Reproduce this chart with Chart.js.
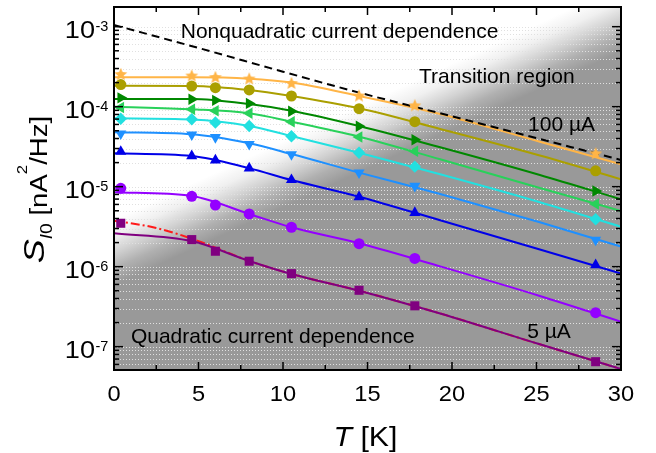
<!DOCTYPE html>
<html>
<head>
<meta charset="utf-8">
<script src="https://cdn.jsdelivr.net/npm/chart.js@4.4.1/dist/chart.umd.min.js"></script>
<style>
  html, body { margin: 0; padding: 0; background: #fff; }
  #wrap { width: 656px; height: 453px; }
</style>
</head>
<body>
<div id="wrap"><canvas id="noiseChart" width="656" height="453"></canvas></div>
<script>
// Temperatures of the measured points and of the samples of the fitted curves (K)
const markerT = [0.4, 4.6, 6.0, 8.0, 10.5, 14.5, 17.8, 28.5];
const fitT = [0, 4.6, 8.0, 10.5, 14.5, 19.3, 25.2, 30];

// Measured S_I0 (nA^2/Hz), highest bias current (100 uA) first, lowest (5 uA) last
const ptsStar    = [2.56e-4, 2.45e-4, 2.35e-4, 2.25e-4, 1.98e-4, 1.38e-4, 1.04e-4, 2.61e-5];
const ptsOlive   = [1.89e-4, 1.81e-4, 1.73e-4, 1.62e-4, 1.36e-4, 9.44e-5, 6.49e-5, 1.58e-5];
const ptsDkGreen = [1.29e-4, 1.24e-4, 1.20e-4, 1.10e-4, 8.79e-5, 5.69e-5, 3.86e-5, 8.84e-6];
const ptsGreen   = [9.77e-5, 9.28e-5, 8.89e-5, 8.27e-5, 6.49e-5, 4.18e-5, 2.78e-5, 6.08e-6];
const ptsCyan    = [7.06e-5, 6.98e-5, 6.35e-5, 5.74e-5, 4.27e-5, 2.66e-5, 1.78e-5, 3.91e-6];
const ptsSky     = [4.61e-5, 4.48e-5, 4.15e-5, 3.40e-5, 2.53e-5, 1.50e-5, 1.02e-5, 2.16e-6];
const ptsBlue    = [2.74e-5, 2.42e-5, 2.14e-5, 1.70e-5, 1.22e-5, 7.44e-6, 4.73e-6, 1.05e-6];
const ptsViolet  = [9.55e-6, 7.59e-6, 5.90e-6, 4.56e-6, 3.11e-6, 1.94e-6, 1.27e-6, 2.66e-7];
const ptsPlum    = [3.49e-6, 2.18e-6, 1.56e-6, 1.17e-6, 8.18e-7, 5.07e-7, 3.24e-7, 6.49e-8];

// Fitted curves sampled at fitT
const fitStar    = [2.33e-4, 2.33e-4, 2.24e-4, 2.00e-4, 1.36e-4, 8.11e-5, 3.65e-5, 1.91e-5];
const fitOlive   = [1.83e-4, 1.82e-4, 1.62e-4, 1.36e-4, 9.55e-5, 5.26e-5, 2.45e-5, 1.24e-5];
const fitDkGreen = [1.25e-4, 1.25e-4, 1.08e-4, 8.91e-5, 5.74e-5, 3.11e-5, 1.40e-5, 6.96e-6];
const fitGreen   = [1.00e-4, 9.28e-5, 8.27e-5, 6.49e-5, 4.22e-5, 2.20e-5, 9.64e-6, 4.97e-6];
const fitCyan    = [7.16e-5, 6.92e-5, 5.74e-5, 4.30e-5, 2.66e-5, 1.43e-5, 6.40e-6, 3.16e-6];
const fitSky     = [4.79e-5, 4.52e-5, 3.49e-5, 2.56e-5, 1.50e-5, 8.11e-6, 3.60e-6, 1.78e-6];
const fitBlue    = [2.61e-5, 2.42e-5, 1.70e-5, 1.21e-5, 7.50e-6, 3.80e-6, 1.64e-6, 8.22e-7];
const fitViolet  = [8.51e-6, 7.65e-6, 4.56e-6, 3.11e-6, 1.96e-6, 1.01e-6, 4.31e-7, 2.05e-7];
const fitPlum    = [2.62e-6, 2.09e-6, 1.18e-6, 8.11e-7, 5.01e-7, 2.60e-7, 1.07e-7, 5.26e-8];

// Quadratic-regime guide (red dash-dot) and nonquadratic limit (black dashes)
const quadT = [0, 2.5, 5, 8.0, 10.5, 14.5, 19.3, 25.2, 30];
const quadS = [3.76e-6, 3.05e-6, 2.09e-6, 1.18e-6, 8.11e-7, 5.01e-7, 2.60e-7, 1.07e-7, 5.26e-8];
const limitT = [0, 5, 10, 14.5, 19.3, 25.2, 30];
const limitS = [1.05e-3, 5.42e-4, 2.74e-4, 1.50e-4, 8.27e-5, 3.94e-5, 2.16e-5];

// Axes
const xRange = [0, 30];
const yRange = [5.11e-8, 1.763e-3];
const xTickVals = [0, 5, 10, 15, 20, 25, 30];
const xTickLabels = ['0', '5', '10', '15', '20', '25', '30'];
const xMinorVals = [2.5, 7.5, 12.5, 17.5, 22.5, 27.5];
const yDecades = [1e-7, 1e-6, 1e-5, 1e-4, 1e-3];
const yExpLabels = ['-7', '-6', '-5', '-4', '-3'];

// Annotations, anchored in data space (T, S) at the left end of the baseline
const notes = [
  { text: 'Nonquadratic current dependence', t: 3.95, s: 7.2e-4 },
  { text: 'Transition region', t: 18.05, s: 1.98e-4 },
  { text: '100 \u00b5A', t: 24.5, s: 4.9e-5 },
  { text: '5 \u00b5A', t: 24.45, s: 1.29e-7 },
  { text: 'Quadratic current dependence', t: 1.0, s: 1.11e-7 }
];

// Shaded background: white above the edge line, grey below it
const shadeEdge = [[0, 3.9e-6], [24, 8.5e-4]];
const shadeWidth = 60;

const FONT = '"Liberation Sans", Arial, Helvetica, sans-serif';

function starImage(color, r) {
  const c = document.createElement('canvas');
  const size = Math.ceil(r * 2) + 2;
  c.width = size; c.height = size;
  const g = c.getContext('2d');
  g.fillStyle = color;
  g.beginPath();
  for (let i = 0; i < 10; i++) {
    const rad = i % 2 === 0 ? r : r * 0.45;
    const a = -Math.PI / 2 + i * Math.PI / 5;
    const px = size / 2 + rad * Math.cos(a);
    const py = size / 2 + rad * Math.sin(a) + 0.5;
    if (i === 0) g.moveTo(px, py); else g.lineTo(px, py);
  }
  g.closePath();
  g.fill();
  return c;
}

function fitSet(vals, color, extra) {
  return Object.assign({
    data: fitT.map((t, i) => ({ x: t, y: vals[i] })),
    showLine: true,
    borderColor: color,
    borderWidth: 2,
    pointRadius: 0,
    tension: 0.4,
    cubicInterpolationMode: 'monotone',
    order: 3
  }, extra || {});
}

function markSet(vals, color, style, radius, rotation) {
  return {
    data: markerT.map((t, i) => ({ x: t, y: vals[i] })),
    showLine: false,
    pointStyle: style,
    pointRadius: radius,
    pointRotation: rotation || 0,
    pointBackgroundColor: color,
    pointBorderColor: color,
    pointBorderWidth: 0,
    order: 1
  };
}

const colors = {
  star: '#FFB547', olive: '#AA9F00', dkgreen: '#008800', green: '#29D15A',
  cyan: '#22E0E0', sky: '#1E90FF', blue: '#0000E8', violet: '#9400FF', plum: '#800080'
};

const datasets = [
  markSet(ptsStar, colors.star, starImage(colors.star, 6.8), 6.8),
  markSet(ptsOlive, colors.olive, 'circle', 5.5),
  markSet(ptsDkGreen, colors.dkgreen, 'triangle', 6.6, 90),
  markSet(ptsGreen, colors.green, 'triangle', 6.6, -90),
  markSet(ptsCyan, colors.cyan, 'rectRot', 6.2),
  markSet(ptsSky, colors.sky, 'triangle', 6.4, 180),
  markSet(ptsBlue, colors.blue, 'triangle', 6.4),
  markSet(ptsViolet, colors.violet, 'circle', 5.5),
  markSet(ptsPlum, colors.plum, 'rect', 6.4),
  {
    data: limitT.map((t, i) => ({ x: t, y: limitS[i] })),
    showLine: true, borderColor: '#000', borderWidth: 2, borderDash: [8, 5],
    pointRadius: 0, tension: 0.4, cubicInterpolationMode: 'monotone', order: 2
  },
  fitSet(fitStar, colors.star),
  fitSet(fitOlive, colors.olive),
  fitSet(fitDkGreen, colors.dkgreen),
  fitSet(fitGreen, colors.green),
  fitSet(fitCyan, colors.cyan),
  fitSet(fitSky, colors.sky),
  fitSet(fitBlue, colors.blue),
  fitSet(fitViolet, colors.violet),
  fitSet(fitPlum, colors.plum),
  {
    data: quadT.map((t, i) => ({ x: t, y: quadS[i] })),
    showLine: true, borderColor: '#FF1A1A', borderWidth: 2, borderDash: [9, 3, 2, 3],
    pointRadius: 0, tension: 0.4, cubicInterpolationMode: 'monotone', order: 4
  }
];

function minorY() {
  const out = [];
  for (let k = -8; k <= -3; k++) {
    for (let m = 2; m <= 9; m++) {
      const v = m * Math.pow(10, k);
      if (v > yRange[0] && v < yRange[1]) out.push(v);
    }
  }
  return out;
}

function stretchedText(ctx, str, x, y, font, align, sx) {
  ctx.save();
  ctx.translate(x, y);
  ctx.scale(sx, 1);
  ctx.font = font;
  ctx.textAlign = align;
  ctx.textBaseline = 'alphabetic';
  ctx.fillText(str, 0, 0);
  ctx.restore();
}

// grey/white shading plus the dotted horizontal grid
const backdrop = {
  id: 'backdrop',
  beforeDatasetsDraw(chart) {
    const { ctx, chartArea: a, scales: { x, y } } = chart;
    ctx.save();
    ctx.beginPath();
    ctx.rect(a.left, a.top, a.width, a.height);
    ctx.clip();
    const p1 = { x: x.getPixelForValue(shadeEdge[0][0]), y: y.getPixelForValue(shadeEdge[0][1]) };
    const p2 = { x: x.getPixelForValue(shadeEdge[1][0]), y: y.getPixelForValue(shadeEdge[1][1]) };
    const dx = p2.x - p1.x, dy = p2.y - p1.y, len = Math.hypot(dx, dy);
    const nx = -dy / len, ny = dx / len;
    const g = ctx.createLinearGradient(p1.x, p1.y, p1.x + nx * shadeWidth, p1.y + ny * shadeWidth);
    g.addColorStop(0, '#ffffff');
    g.addColorStop(0.25, '#f0f0f0');
    g.addColorStop(0.5, '#d2d2d2');
    g.addColorStop(0.75, '#b0b0b0');
    g.addColorStop(1, '#999999');
    ctx.fillStyle = g;
    ctx.fillRect(a.left, a.top, a.width, a.height);

    ctx.strokeStyle = '#e0e0e0';
    ctx.lineWidth = 1;
    ctx.setLineDash([1, 2]);
    yDecades.concat(minorY()).forEach(v => {
      const py = Math.round(y.getPixelForValue(v)) + 0.5;
      ctx.beginPath();
      ctx.moveTo(a.left, py);
      ctx.lineTo(a.right, py);
      ctx.stroke();
    });
    ctx.restore();
  },
  afterDatasetsDraw(chart) {
    const { ctx, scales: { x, y } } = chart;
    ctx.save();
    ctx.fillStyle = '#000';
    ctx.font = `21px ${FONT}`;
    ctx.textAlign = 'left';
    ctx.textBaseline = 'alphabetic';
    notes.forEach(n => ctx.fillText(n.text, x.getPixelForValue(n.t), y.getPixelForValue(n.s)));
    ctx.restore();
  }
};

// frame, inward ticks, tick labels and axis titles
const axesFrame = {
  id: 'axesFrame',
  afterDraw(chart) {
    const { ctx, chartArea: a, scales: { x, y } } = chart;
    ctx.save();
    ctx.strokeStyle = '#000';
    ctx.fillStyle = '#000';
    ctx.lineWidth = 1.5;
    const tick = (x0, y0, x1, y1) => { ctx.beginPath(); ctx.moveTo(x0, y0); ctx.lineTo(x1, y1); ctx.stroke(); };

    xTickVals.forEach(v => {
      const px = x.getPixelForValue(v);
      tick(px, a.bottom, px, a.bottom - 8);
      tick(px, a.top, px, a.top + 8);
    });
    xMinorVals.forEach(v => {
      const px = x.getPixelForValue(v);
      tick(px, a.bottom, px, a.bottom - 5);
      tick(px, a.top, px, a.top + 5);
    });
    yDecades.forEach(v => {
      const py = y.getPixelForValue(v);
      tick(a.left, py, a.left + 9, py);
      tick(a.right, py, a.right - 9, py);
    });
    minorY().forEach(v => {
      const py = y.getPixelForValue(v);
      tick(a.left, py, a.left + 5, py);
      tick(a.right, py, a.right - 5, py);
    });

    ctx.lineWidth = 2;
    ctx.strokeRect(a.left, a.top, a.right - a.left, a.bottom - a.top);

    // x tick labels
    xTickVals.forEach((v, i) => {
      stretchedText(ctx, xTickLabels[i], x.getPixelForValue(v), 401, `21.5px ${FONT}`, 'center', 1.1);
    });
    // y tick labels: 10 with a raised exponent
    yDecades.forEach((v, i) => {
      const py = y.getPixelForValue(v);
      stretchedText(ctx, '10', 95, py + 11, `23px ${FONT}`, 'right', 1.18);
      stretchedText(ctx, yExpLabels[i], 95.5, py + 4.5, `14.5px ${FONT}`, 'left', 1.0);
    });

    // x title: italic T followed by the unit
    ctx.save();
    ctx.translate((a.left + a.right) / 2 - 2, 446);
    ctx.scale(1.12, 1);
    ctx.textBaseline = 'alphabetic';
    ctx.textAlign = 'left';
    const fT = `italic 27px ${FONT}`, fU = `27px ${FONT}`;
    ctx.font = fT; const wT = ctx.measureText('T').width;
    ctx.font = fU; const wU = ctx.measureText(' [K]').width;
    const u = -(wT + wU) / 2;
    ctx.font = fT; ctx.fillText('T', u, 0);
    ctx.font = fU; ctx.fillText(' [K]', u + wT, 0);
    ctx.restore();

    // y title, rotated: S with subscript I0, then the unit with a superscript 2
    const parts = [
      { t: 'S', f: `italic 30px ${FONT}`, v: 43.5 },
      { t: 'I', f: `italic 16px ${FONT}`, v: 52 },
      { t: '0', f: `16px ${FONT}`, v: 52 },
      { t: ' [nA', f: `23px ${FONT}`, v: 46.5 },
      { t: '2', f: `14px ${FONT}`, v: 27 },
      { t: '/Hz]', f: `23px ${FONT}`, v: 46.5 }
    ];
    ctx.save();
    ctx.translate(0, (a.top + a.bottom) / 2 + 1);
    ctx.rotate(-Math.PI / 2);
    ctx.scale(1.2, 1);
    ctx.textAlign = 'left';
    ctx.textBaseline = 'alphabetic';
    let total = 0;
    parts.forEach(p => { ctx.font = p.f; p.w = ctx.measureText(p.t).width; total += p.w; });
    let pos = -total / 2;
    parts.forEach(p => { ctx.font = p.f; ctx.fillText(p.t, pos, p.v); pos += p.w; });
    ctx.restore();

    ctx.restore();
  }
};

new Chart(document.getElementById('noiseChart'), {
  type: 'scatter',
  data: { datasets },
  options: {
    responsive: false,
    animation: false,
    devicePixelRatio: 1,
    layout: { padding: { left: 114, top: 7, right: 35, bottom: 83 } },
    plugins: { legend: { display: false }, tooltip: { enabled: false } },
    scales: {
      x: { type: 'linear', min: xRange[0], max: xRange[1], display: false },
      y: { type: 'logarithmic', min: yRange[0], max: yRange[1], display: false }
    }
  },
  plugins: [backdrop, axesFrame]
});
</script>
</body>
</html>
